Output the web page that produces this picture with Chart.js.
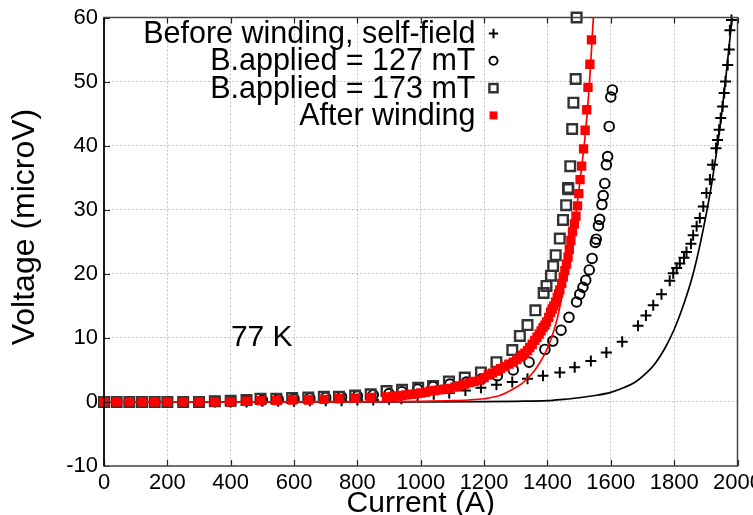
<!DOCTYPE html>
<html>
<head>
<meta charset="utf-8">
<script src="https://cdn.jsdelivr.net/npm/chart.js@4/dist/chart.umd.min.js"></script>
<style>
html,body{margin:0;padding:0;background:#fff;}
#wrap{width:753px;height:515px;position:relative;}
</style>
</head>
<body>
<div id="wrap"><canvas id="c" width="753" height="515"></canvas></div>
<script>
// ---- data ----
const xTicks = [0,200,400,600,800,1000,1200,1400,1600,1800,2000];
const yTicks = [-10,0,10,20,30,40,50,60];

const seriesNames = ["Before winding, self-field","B.applied = 127 mT","B.applied = 173 mT","After winding"];

const beforeI = [0,40,80,120,160,200,250,300,350,400,450,500,550,600,650,700,750,800,850,900,939,990,1041,1090,1141,1190,1239,1289,1337,1386,1439,1486,1537,1586,1636,1686,1711,1734,1760,1786,1797,1808,1818,1831,1839,1853,1860,1871,1881,1892,1902,1913,1921,1932,1937,1942,1947,1953,1958,1962,1969,1974,1976,1981];
const beforeV = [0,0,0,0,0,0,0,0,0,0,0,0.1,0.1,0.1,0.2,0.2,0.2,0.3,0.3,0.4,0.5,0.9,1.2,1.4,1.8,2.2,2.7,3.1,3.6,4.1,4.6,5.4,6.4,7.7,9.4,11.9,13.5,15.1,16.8,18.9,20.1,20.9,21.6,22.5,23.4,24.7,26.0,27.4,28.7,30.5,32.6,34.7,37.0,39.6,40.9,42.5,44.3,46.1,48.2,50.0,52.6,55.0,58.0,59.6];

const b127I = [0,40,80,120,160,200,250,300,350,400,450,500,550,600,650,700,750,800,850,900,940,990,1039,1092,1144,1192,1242,1292,1342,1392,1417,1443,1468,1492,1502,1512,1521,1532,1541,1551,1554,1561,1565,1572,1576,1581,1586,1590,1595,1600,1605];
const b127V = [0,0,0,0,0,0,0,0,0.1,0.1,0.2,0.3,0.4,0.5,0.6,0.7,0.8,0.9,1.1,1.3,1.6,2.0,2.4,2.8,3.1,3.6,4.1,5.0,6.2,8.2,9.5,11.2,13.2,15.6,16.8,17.9,19.0,20.6,22.4,24.9,25.4,27.5,28.5,30.8,32.2,34.1,37.0,38.3,43.0,47.6,48.7];

const b173I = [0,40,80,120,160,200,250,300,350,400,450,494,544,594,645,694,742,793,842,892,941,992,1039,1089,1139,1190,1239,1289,1313,1337,1362,1388,1397,1411,1418,1426,1439,1449,1459,1465,1466,1472,1478,1482,1489,1492];
const b173V = [0,0,0,0,0,0,0,0,0.1,0.2,0.3,0.5,0.5,0.6,0.7,0.8,0.8,1.0,1.2,1.7,1.9,2.2,2.5,3.2,3.8,4.6,6.2,8.1,10.3,12.0,14.3,17.0,18.1,19.7,21.2,22.9,25.5,28.4,30.7,33.4,33.2,36.8,42.6,46.7,50.4,60.0];

const afterI = [0,40,80,120,160,200,250,300,350,400,450,495,545,594,645,694,742,793,842,892,910,925,940,955,970,986,1000,1015,1030,1045,1060,1075,1092,1108,1123,1139,1155,1170,1186,1200,1213,1226,1239,1252,1265,1278,1292,1303,1313,1321,1329,1337,1344,1352,1360,1367,1374,1380,1386,1392,1397,1404,1410,1415,1420,1426,1431,1435,1439,1445,1450,1455,1460,1465,1469,1474,1479,1485,1490,1495,1499,1503,1508,1514,1519,1524,1528,1534,1539];
const afterV = [0,0,0,0,0,0,0,0,0,0,0.1,0.2,0.2,0.3,0.3,0.4,0.5,0.6,0.7,0.8,0.85,0.9,1.0,1.1,1.2,1.3,1.4,1.5,1.7,1.8,1.9,2.0,2.1,2.3,2.5,2.8,3.0,3.2,3.4,3.8,4.2,4.5,4.8,5.2,5.5,5.9,6.2,6.6,7.0,7.3,7.6,8.0,8.5,9.0,9.6,10.1,10.6,11.1,11.6,12.0,12.5,13.2,14.0,14.5,15.0,15.6,16.3,16.9,17.5,18.5,19.5,20.5,21.5,22.6,23.8,25.2,26.6,27.8,29.0,30.6,32.5,34.7,36.8,39.5,42.4,45.6,49.1,52.7,56.5];

// fitted curves as drawn in the reference
const fitBeforeI = [0,500,1000,1200,1300,1400,1450,1500,1550,1600,1640,1680,1710,1740,1770,1800,1830,1860,1890,1920,1945,1965,1983];
const fitBeforeV = [0,0,0.02,0.05,0.1,0.2,0.4,0.65,1.0,1.5,2.2,3.2,4.4,6.0,8.3,11.3,15.2,20,26.5,34.5,43,51.5,60];

const fitAfterI = [0,900,1000,1100,1150,1200,1250,1292,1320,1344,1365,1386,1405,1418,1432,1444,1455,1465,1481,1497,1510,1521,1533,1545];
const fitAfterV = [0,0.05,0.1,0.2,0.3,0.5,1.0,2.0,2.9,4.0,5.3,7.0,9.0,10.8,13.2,16.0,18.8,21.6,26.4,32.1,37.5,42.5,50,60];

const tempLabel = "77 K";
const xTitle = "Current (A)";
const yTitle = "Voltage (microV)";

function pts(xs, ys){ return xs.map((x,i)=>({x:x, y:ys[i]})); }

const FONT = "'Liberation Sans', Arial, sans-serif";

const styles = [
  {pointStyle:'cross', radius:5.5, color:'#000', fill:'#000', width:2},
  {pointStyle:'circle', radius:4.8, color:'#000', fill:'rgba(0,0,0,0)', width:1.9},
  {pointStyle:'rect', radius:6.8, color:'#333', fill:'rgba(0,0,0,0)', width:2.4},
  {pointStyle:'rect', radius:6.6, color:'#ff0000', fill:'#ff0000', width:0}
];

function pointOpts(s){
  return {pointStyle:s.pointStyle, pointRadius:s.radius, pointHoverRadius:s.radius,
          pointBorderColor:s.color, pointBackgroundColor:s.fill, pointBorderWidth:s.width,
          borderColor:s.color, backgroundColor:s.fill};
}

const frame = {
  id:'frame',
  afterDatasetsDraw(chart){
    const {ctx, chartArea:a, scales} = chart;
    ctx.save();
    // inner tick marks
    ctx.strokeStyle = '#222';
    ctx.lineWidth = 1.2;
    ctx.beginPath();
    xTicks.forEach(v=>{
      const px = Math.round(scales.x.getPixelForValue(v))+0.5;
      ctx.moveTo(px, a.bottom); ctx.lineTo(px, a.bottom-6);
      ctx.moveTo(px, a.top); ctx.lineTo(px, a.top+6);
    });
    yTicks.forEach(v=>{
      const py = Math.round(scales.y.getPixelForValue(v))+0.5;
      ctx.moveTo(a.left, py); ctx.lineTo(a.left+6, py);
    });
    ctx.stroke();
    // border
    ctx.lineWidth = 1.5;
    ctx.strokeStyle = '#444';
    ctx.strokeRect(a.left, a.top, a.right-a.left, a.bottom-a.top);
    ctx.strokeStyle = '#000';
    ctx.beginPath(); ctx.moveTo(a.left, a.top); ctx.lineTo(a.left, a.bottom); ctx.stroke();

    // legend (inside, top right; text right-aligned, marker to its right)
    const textRight = a.right - 262;
    const markX = a.right - 244;
    const rowY0 = a.top + 16;
    const rowGap = 27.3;
    ctx.font = "30.5px " + FONT;
    ctx.textAlign = 'right';
    ctx.textBaseline = 'middle';
    seriesNames.forEach((name,i)=>{
      const y = rowY0 + i*rowGap;
      ctx.fillStyle = '#000';
      ctx.fillText(name, textRight, y+1);
      const s = styles[i];
      ctx.strokeStyle = s.color;
      ctx.fillStyle = s.fill;
      ctx.lineWidth = s.width;
      Chart.helpers.drawPoint(ctx, {pointStyle:s.pointStyle, radius:s.radius*0.85, borderWidth:s.width}, markX, y);
    });

    // temperature annotation
    ctx.fillStyle = '#000';
    ctx.font = "30px " + FONT;
    ctx.textAlign = 'center';
    ctx.fillText(tempLabel, scales.x.getPixelForValue(498), scales.y.getPixelForValue(10));

    // axis titles
    ctx.font = "30px " + FONT;
    ctx.textAlign = 'center';
    ctx.textBaseline = 'middle';
    ctx.fillText(xTitle, (a.left+a.right)/2, 504);
    ctx.save();
    ctx.translate(25, 227);
    ctx.rotate(-Math.PI/2);
    ctx.font = "32px " + FONT;
    ctx.fillText(yTitle, 0, 0);
    ctx.restore();
    ctx.restore();
  }
};

const datasets = [
  Object.assign({label:seriesNames[0], data:pts(beforeI,beforeV), showLine:false, order:5, clip:10}, pointOpts(styles[0])),
  Object.assign({label:seriesNames[1], data:pts(b127I,b127V), showLine:false, order:4, clip:10}, pointOpts(styles[1])),
  Object.assign({label:seriesNames[2], data:pts(b173I,b173V), showLine:false, order:3, clip:10}, pointOpts(styles[2])),
  Object.assign({label:seriesNames[3], data:pts(afterI,afterV), showLine:false, order:1, clip:10}, pointOpts(styles[3])),
  {label:'fit before', data:pts(fitBeforeI,fitBeforeV), showLine:true, pointRadius:0, borderColor:'#000', borderWidth:1.7, cubicInterpolationMode:'monotone', order:6},
  {label:'fit after', data:pts(fitAfterI,fitAfterV), showLine:true, pointRadius:0, borderColor:'#ff0000', borderWidth:1.7, cubicInterpolationMode:'monotone', order:2}
];

new Chart(document.getElementById('c'), {
  type:'scatter',
  data:{datasets:datasets},
  options:{
    responsive:false,
    animation:false,
    devicePixelRatio:1,
    layout:{padding:{left:0, right:15.5, top:17.5, bottom:0}},
    plugins:{legend:{display:false}, tooltip:{enabled:false}},
    scales:{
      x:{
        type:'linear', min:0, max:2000,
        afterBuildTicks(s){ s.ticks = xTicks.map(v=>({value:v})); },
        afterFit(s){ s.height = 49; s.paddingLeft = 0; s.paddingRight = 0; },
        ticks:{font:{family:FONT, size:22}, color:'#000', padding:4, maxRotation:0, autoSkip:false, callback:v=>String(v)},
        grid:{color:'#c4c4c4', lineWidth:1, drawTicks:false},
        border:{display:false, dash:[2,2]},
        title:{display:false}
      },
      y:{
        type:'linear', min:-10, max:60,
        afterBuildTicks(s){ s.ticks = yTicks.map(v=>({value:v})); },
        afterFit(s){ s.width = 104; s.paddingTop = 0; s.paddingBottom = 0; },
        ticks:{font:{family:FONT, size:22}, color:'#000', padding:6, callback:v=>String(v)},
        grid:{color:'#c4c4c4', lineWidth:1, drawTicks:false},
        border:{display:false, dash:[2,2]},
        title:{display:false}
      }
    }
  },
  plugins:[frame]
});
</script>
</body>
</html>
